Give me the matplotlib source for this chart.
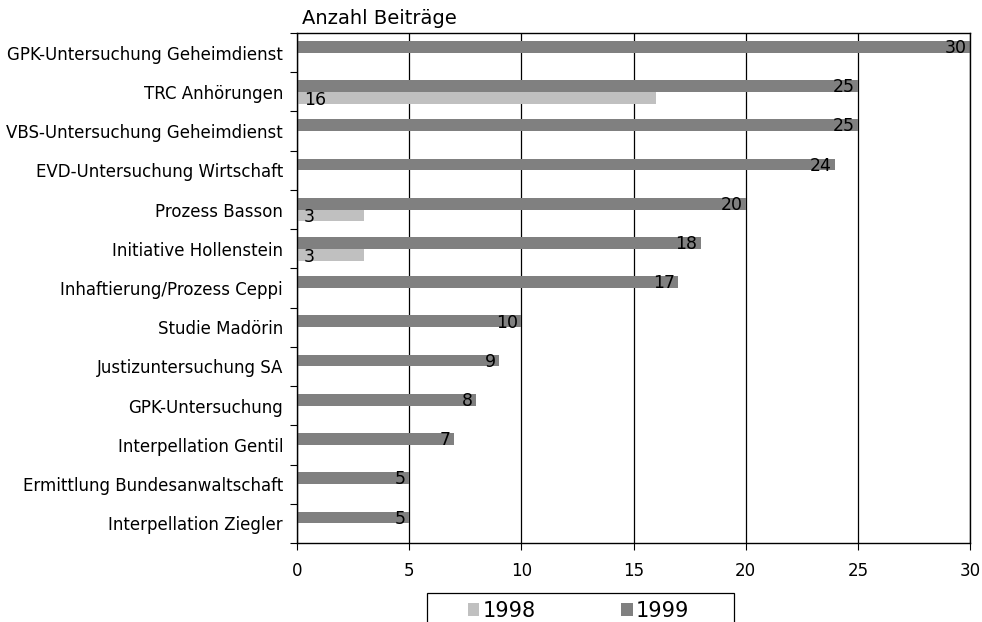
import matplotlib.pyplot as plt
from matplotlib.patches import Rectangle
import numpy as np

categories = [
    "GPK-Untersuchung Geheimdienst",
    "TRC Anhörungen",
    "VBS-Untersuchung Geheimdienst",
    "EVD-Untersuchung Wirtschaft",
    "Prozess Basson",
    "Initiative Hollenstein",
    "Inhaftierung/Prozess Ceppi",
    "Studie Madörin",
    "Justizuntersuchung SA",
    "GPK-Untersuchung",
    "Interpellation Gentil",
    "Ermittlung Bundesanwaltschaft",
    "Interpellation Ziegler",
]
values_1999 = [30, 25, 25, 24, 20, 18, 17, 10, 9, 8, 7, 5, 5]
values_1998 = [0, 16, 0, 0, 3, 3, 0, 0, 0, 0, 0, 0, 0]

plt.rcParams["font.family"] = ["DejaVu Sans"]

fig = plt.figure(figsize=(9.82, 6.22), dpi=100)
ax = fig.add_axes([297 / 982, 1 - 543 / 622, (970 - 297) / 982, (543 - 33) / 622])

n = len(categories)
y = np.arange(n)
h = 0.3
ax.barh(y - h / 2, values_1999, height=h, color="#808080", label="1999", zorder=2)
ax.barh(y + h / 2, values_1998, height=h, color="#c0c0c0", label="1998", zorder=2)

for yi, v in zip(y, values_1999):
    ax.text(v - 0.15, yi - h / 2 + 0.03, str(v), ha="right", va="center", fontsize=12.5, zorder=3)
for yi, v in zip(y, values_1998):
    if v > 0:
        ax.text(0.3, yi + h / 2 + 0.05, str(v), ha="left", va="center", fontsize=12.5, zorder=3)

ax.set_xlim(0, 30)
ax.set_ylim(n - 0.5, -0.5)
ax.set_xticks([0, 5, 10, 15, 20, 25, 30])
ax.xaxis.grid(True, color="black", linewidth=0.9, zorder=1)
ax.set_axisbelow(True)

# category labels sit between the boundary ticks
ax.set_yticks(np.arange(n + 1) - 0.5)
ax.set_yticklabels([])
ax.set_yticks(y, minor=True)
ax.set_yticklabels(categories, minor=True, fontsize=12)
ax.tick_params(axis="y", which="minor", length=0, pad=10)
ax.tick_params(axis="y", which="major", length=5, direction="out")
ax.tick_params(axis="x", length=5, direction="out", labelsize=12, pad=9)

for s in ax.spines.values():
    s.set_color("black")
    s.set_linewidth(1.0)

fig.text(302 / 982, 1 - 19 / 622, "Anzahl Beiträge", fontsize=14, va="center", ha="left")

# legend frame runs off the bottom edge, as in the original
fig.patches.append(Rectangle((427 / 982, -0.05), (734 - 427) / 982, 0.05 + (622 - 593) / 622,
                             transform=fig.transFigure, fill=False,
                             edgecolor="black", linewidth=0.9))
handles, labels = ax.get_legend_handles_labels()
leg = fig.legend(handles[::-1], labels[::-1], loc="center left",
                 bbox_to_anchor=(468 / 982, 1 - 611 / 622), ncol=2,
                 fontsize=15, frameon=False, borderpad=0, borderaxespad=0,
                 handlelength=0.55, handleheight=0.55, handletextpad=0.15,
                 columnspacing=4.1)

fig.savefig("out.png", dpi=100)
